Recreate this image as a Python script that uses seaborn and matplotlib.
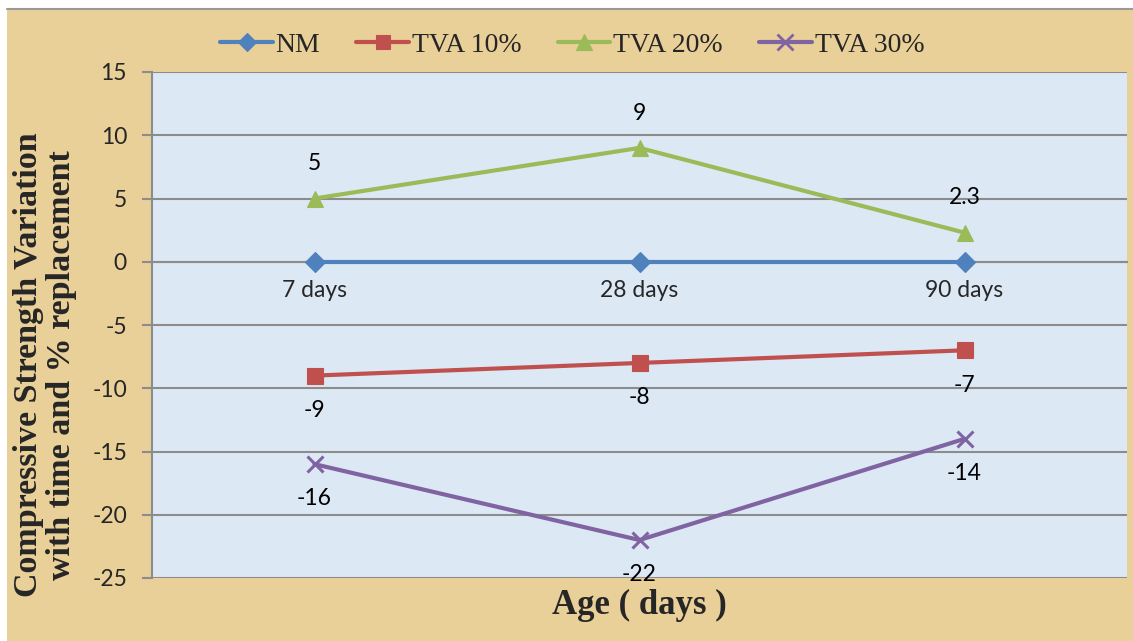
import matplotlib
matplotlib.use("Agg")
import matplotlib.pyplot as plt
from matplotlib.lines import Line2D
from matplotlib.patches import Rectangle
import seaborn as sns
import pandas as pd

# Data: strength variation (%) relative to the normal mix
ages = ["7 days", "28 days", "90 days"]
nm = [0, 0, 0]
tva10 = [-9, -8, -7]
tva20 = [5, 9, 2.3]
tva30 = [-16, -22, -14]
series_names = ["NM", "TVA 10%", "TVA 20%", "TVA 30%"]
y_ticks = [-25, -20, -15, -10, -5, 0, 5, 10, 15]

values = {"NM": nm, "TVA 10%": tva10, "TVA 20%": tva20, "TVA 30%": tva30}
rows = []
for name in series_names:
    for i, v in enumerate(values[name]):
        rows.append({"age": i, "value": v, "series": name})
df = pd.DataFrame(rows)

colors = {"NM": "#4F81BD", "TVA 10%": "#C0504D", "TVA 20%": "#9BBB59", "TVA 30%": "#8064A2"}
markers = {"NM": "D", "TVA 10%": "s", "TVA 20%": "^", "TVA 30%": "x"}
msizes = {"NM": 10, "TVA 10%": 11, "TVA 20%": 12, "TVA 30%": 12}
label_side = {"TVA 10%": -1, "TVA 20%": 1, "TVA 30%": -1}

sns.set_theme(style="white")
plt.rcParams["font.family"] = ["Lato", "DejaVu Sans"]

W, H = 1133, 641
fig = plt.figure(figsize=(W / 100, H / 100), dpi=100, facecolor="white")

# parchment backdrop with a thin border on top
fig.patches.append(Rectangle((7 / W, 0), 1 - 7 / W, 1 - 9 / H, transform=fig.transFigure,
                             facecolor="#E9CF98", edgecolor="none", zorder=-10))
fig.add_artist(Line2D([7 / W, 1], [1 - 8.5 / H, 1 - 8.5 / H], transform=fig.transFigure,
                      color="#9A9A9A", lw=1.5))

ax = fig.add_axes([152 / W, 1 - 578 / H, (1127 - 152) / W, (578 - 72) / H])
ax.set_facecolor("#DDE8F5")

for name in series_names:
    sub = df[df["series"] == name]
    sns.lineplot(data=sub, x="age", y="value", color=colors[name], marker=markers[name],
                 markersize=msizes[name], markerfacecolor=colors[name],
                 markeredgecolor=colors[name],
                 markeredgewidth=2.2 if name == "TVA 30%" else 0.8,
                 linewidth=3.0, legend=False, ax=ax, zorder=3)

# value labels
for name, side in label_side.items():
    for i, v in enumerate(values[name]):
        ax.annotate(f"{v:g}", (i, v), xytext=(0, 25 * side), textcoords="offset points",
                    ha="center", va="center", fontsize=16.5, color="black", zorder=5)

ax.set_xlim(-0.5, 2.5)
ax.set_ylim(-25, 15)
ax.set_yticks(y_ticks)
ax.set_yticklabels([str(t) for t in y_ticks])
ax.yaxis.grid(True, color="#8C8C8C", lw=1.5, zorder=1)
ax.set_axisbelow(True)

# category axis sits on the zero line
ax.spines["bottom"].set_position(("data", 0))
ax.spines["bottom"].set_color("#8C8C8C")
ax.spines["bottom"].set_linewidth(1.5)
ax.spines["left"].set_color("#8C8C8C")
ax.spines["left"].set_linewidth(1.5)
ax.spines["top"].set_visible(False)
ax.spines["right"].set_visible(False)
ax.set_xticks(range(len(ages)))
ax.set_xticklabels(ages)
ax.set_xticks([-0.5, 0.5, 1.5, 2.5], minor=True)
ax.tick_params(axis="x", which="major", length=0, pad=13, labelsize=16.5)
ax.tick_params(axis="x", which="minor", length=7, width=1.5, color="#8C8C8C", direction="out")
ax.tick_params(axis="y", length=7, width=1.5, color="#8C8C8C", direction="out", pad=11,
               labelsize=16.5, left=True)
ax.set_xlabel("")
ax.set_ylabel("")

serif = ["Liberation Serif", "DejaVu Serif"]
fig.text(45 / W, 1 - 365 / H, "Compressive Strength Variation\nwith time and % replacement",
         rotation=90, ha="center", va="center", multialignment="center",
         fontsize=24.5, fontweight="bold", family=serif, linespacing=1.12)
fig.text(639 / W, 1 - 605 / H, "Age ( days )", ha="center", va="center",
         fontsize=25, fontweight="bold", family=serif)

handles = [Line2D([], [], color=colors[n], lw=3.0, marker=markers[n],
                  markersize=msizes[n] * 0.95, markerfacecolor=colors[n], markeredgecolor=colors[n],
                  markeredgewidth=2.0 if n == "TVA 30%" else 0.8)
           for n in series_names]
fig.legend(handles, series_names, loc="center", bbox_to_anchor=(0.505, 1 - 45 / H), ncol=4,
           frameon=False, prop={"family": serif, "size": 20}, handlelength=1.9,
           handletextpad=0.1, columnspacing=1.3)

fig.savefig("out.png", dpi=100, facecolor=fig.get_facecolor())
